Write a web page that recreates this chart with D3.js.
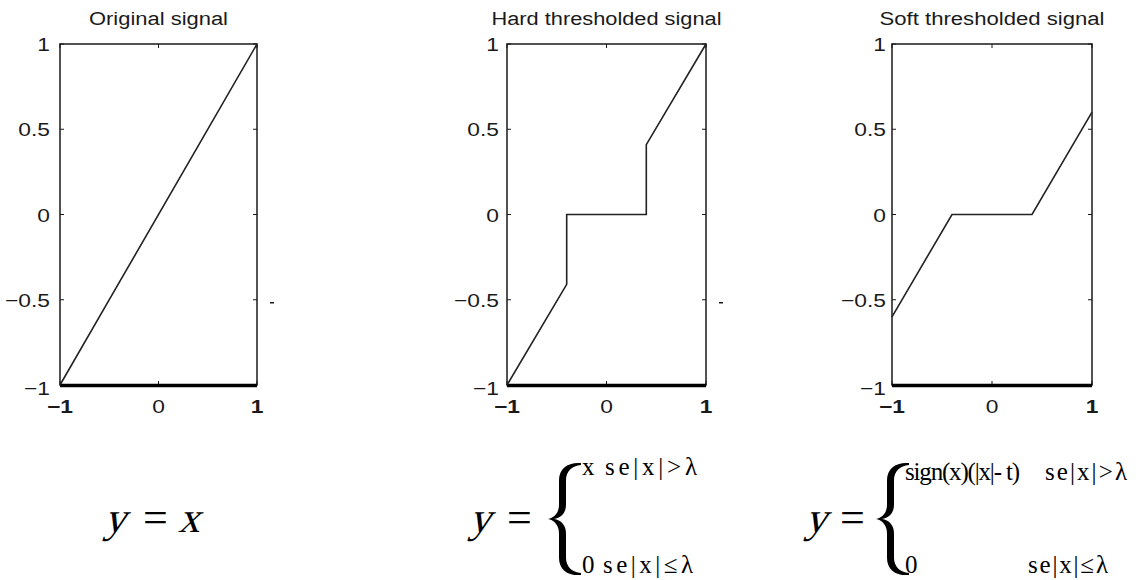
<!DOCTYPE html>
<html>
<head>
<meta charset="utf-8">
<script src="https://cdn.jsdelivr.net/npm/d3@7"></script>
<style>
  body { margin: 0; background: #fff; }
  svg { display: block; }
</style>
</head>
<body>
<svg id="chart" width="1136" height="580"></svg>
<script>
// ---- data ----
const panelTitles = ["Original signal", "Hard thresholded signal", "Soft thresholded signal"];
const xTicks = [-1, 0, 1];
const yTicks = [1, 0.5, 0, -0.5, -1];
const xTickLabels = ["\u22121", "0", "1"];
const yTickLabels = ["1", "0.5", "0", "\u22120.5", "\u22121"];

// breakpoints of the input signal (threshold lambda = 0.4)
const signalX   = [-1, -0.4, -0.4, 0.4, 0.4, 1];
const originalY = [-1, -0.4, -0.4, 0.4, 0.4, 1];
const hardY     = [-1, -0.41, 0, 0, 0.41, 1];
const softY     = [-0.6, 0, 0, 0, 0, 0.6];
const series = [originalY, hardY, softY];

// ---- layout ----
const panels = [
  { left: 60,  right: 257,  titleLen: 139, labelGap: 10, stray: true },
  { left: 507, right: 706,  titleLen: 230, labelGap: 8,  stray: true },
  { left: 892, right: 1092, titleLen: 225, labelGap: 6,  stray: false }
];
const plotTop = 44, plotBottom = 385;
const ink = "#1a1a1a";
const sans = "Liberation Sans, Arial, sans-serif";
const serif = "Liberation Serif, Times New Roman, serif";
const stretch = 1.2;   // wide axis lettering

const svg = d3.select("#chart");

const y = d3.scaleLinear().domain([-1, 1]).range([plotBottom, plotTop]);

panels.forEach((p, i) => {
  const x = d3.scaleLinear().domain([-1, 1]).range([p.left, p.right]);
  const g = svg.append("g");

  // title
  g.append("text")
    .attr("x", (p.left + p.right) / 2)
    .attr("y", 25)
    .attr("text-anchor", "middle")
    .attr("font-family", sans)
    .attr("font-size", 18)
    .attr("fill", ink)
    .attr("textLength", p.titleLen)
    .attr("lengthAdjust", "spacingAndGlyphs")
    .text(panelTitles[i]);

  // inward ticks on all four sides
  const tl = 4;
  xTicks.forEach(t => {
    g.append("line").attr("x1", x(t)).attr("x2", x(t))
      .attr("y1", plotTop).attr("y2", plotTop + tl)
      .attr("stroke", ink).attr("stroke-width", 1);
    g.append("line").attr("x1", x(t)).attr("x2", x(t))
      .attr("y1", plotBottom).attr("y2", plotBottom - tl)
      .attr("stroke", ink).attr("stroke-width", 1);
  });
  yTicks.forEach(t => {
    g.append("line").attr("x1", p.left).attr("x2", p.left + tl)
      .attr("y1", y(t)).attr("y2", y(t))
      .attr("stroke", ink).attr("stroke-width", 1);
    g.append("line").attr("x1", p.right).attr("x2", p.right - tl)
      .attr("y1", y(t)).attr("y2", y(t))
      .attr("stroke", ink).attr("stroke-width", 1);
  });

  // frame
  g.append("rect")
    .attr("x", p.left).attr("y", plotTop)
    .attr("width", p.right - p.left).attr("height", plotBottom - plotTop)
    .attr("fill", "none").attr("stroke", ink).attr("stroke-width", 1.5);
  g.append("line")
    .attr("x1", p.left).attr("x2", p.right)
    .attr("y1", plotBottom + 0.5).attr("y2", plotBottom + 0.5)
    .attr("stroke", "#000").attr("stroke-width", 3.5);

  // y tick labels
  yTicks.forEach((t, k) => {
    g.append("g")
      .attr("transform", `translate(${p.left - p.labelGap},${y(t) + 7 + (t === -1 ? 3 : 0)}) scale(${stretch},1)`)
      .append("text")
      .attr("text-anchor", "end")
      .attr("font-family", sans)
      .attr("font-size", 19)
      .attr("fill", ink)
      .text(yTickLabels[k]);
  });

  // x tick labels
  xTicks.forEach((t, k) => {
    g.append("g")
      .attr("transform", `translate(${x(t)},${413}) scale(${stretch},1)`)
      .append("text")
      .attr("text-anchor", "middle")
      .attr("font-family", sans)
      .attr("font-size", 19)
      .attr("font-weight", t === 0 ? "normal" : "bold")
      .attr("fill", ink)
      .text(xTickLabels[k]);
  });

  // small stray tick outside the right edge
  if (p.stray) {
    g.append("line")
      .attr("x1", p.right + 13).attr("x2", p.right + 17)
      .attr("y1", y(-0.5) + 3).attr("y2", y(-0.5) + 3)
      .attr("stroke", ink).attr("stroke-width", 1.5);
  }

  // signal curve
  const pts = signalX.map((xv, k) => [xv, series[i][k]]);
  g.append("path")
    .datum(pts)
    .attr("fill", "none")
    .attr("stroke", "#222")
    .attr("stroke-width", 1.6)
    .attr("d", d3.line().x(d => x(d[0])).y(d => y(d[1])));
});

// ---- formulas ----
const fBase = 532;

// slanted math variable (serif, sheared)
function mathVar(xPos, str) {
  svg.append("g")
    .attr("transform", `translate(${xPos},${fBase}) skewX(-16)`)
    .append("text")
    .attr("font-family", serif)
    .attr("font-size", 43).attr("fill", "#000").text(str);
}
function equals(xPos) {
  svg.append("text").attr("x", xPos).attr("y", fBase)
    .attr("font-family", serif)
    .attr("font-size", 44).attr("fill", "#000").text("=");
}

// curly brace spanning the two cases
function brace(x0, yMid, h) {
  const s = h / 110;
  const d = [
    "M33,-55",
    "C20,-56 11,-50 11,-38",
    "L11,-14",
    "C11,-6 6,-1 0,0",
    "C6,1 11,6 11,14",
    "L11,38",
    "C11,50 20,56 33,55",
    "L33,53",
    "C24,52 18,47 18,38",
    "L18,14",
    "C18,6 13,1 6,0",
    "C13,-1 18,-6 18,-14",
    "L18,-38",
    "C18,-47 24,-52 33,-53",
    "Z"
  ].join(" ");
  svg.append("path")
    .attr("transform", `translate(${x0},${yMid}) scale(1,${s})`)
    .attr("d", d)
    .attr("fill", "#000");
}

function caseText(xPos, yPos, str, len) {
  const t = svg.append("text").attr("x", xPos).attr("y", yPos)
    .attr("font-family", serif).attr("font-size", 25).attr("fill", "#000")
    .text(str);
  if (len) t.attr("textLength", len).attr("lengthAdjust", "spacing");
  return t;
}

// y = x
mathVar(104, "y");
equals(143);
mathVar(178, "x");

// hard thresholding rule
mathVar(469, "y");
equals(507);
brace(548, 519, 112);
caseText(582, 475, "x");
caseText(605, 475, "se|x|>\u03bb", 92);
caseText(582, 573, "0");
caseText(603, 573, "se|x|\u2264\u03bb", 90);

// soft thresholding rule
mathVar(805, "y");
equals(840);
brace(876, 519, 112);
caseText(905, 480, "sign(x)(|x|- t)", 115);
caseText(1045, 480, "se|x|>\u03bb", 82);
caseText(905, 573, "0");
caseText(1028, 573, "se|x|\u2264\u03bb", 80);
</script>
</body>
</html>
